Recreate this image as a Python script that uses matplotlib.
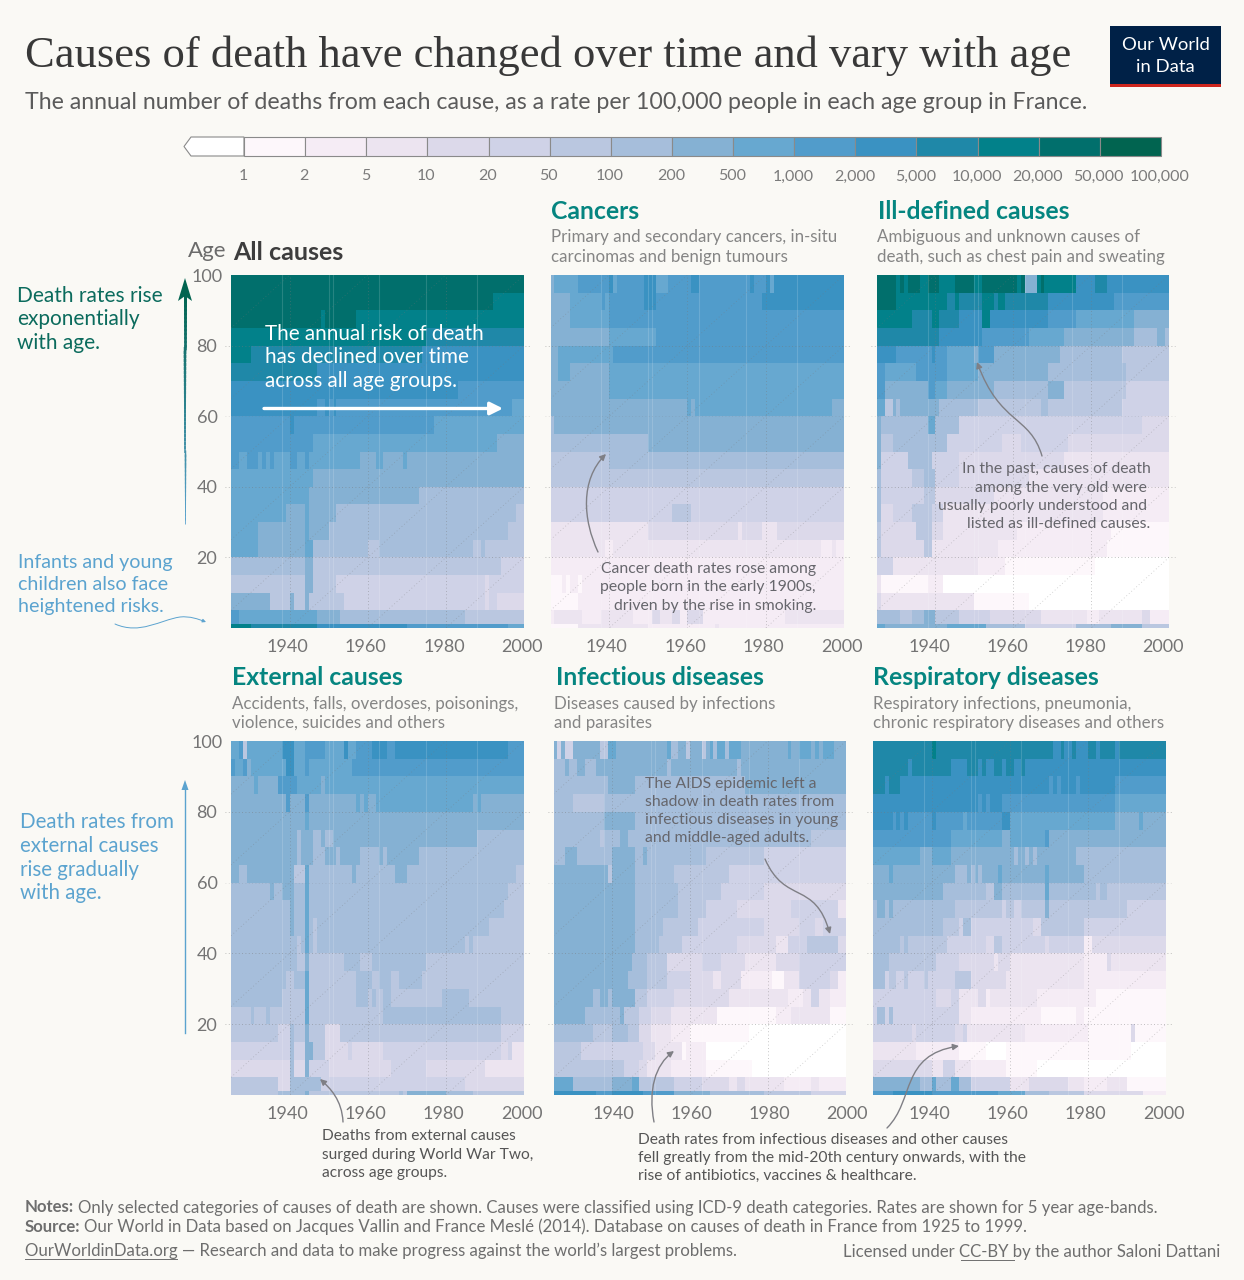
import numpy as np
import matplotlib
matplotlib.use('Agg')
import matplotlib.pyplot as plt
from matplotlib.colors import ListedColormap, BoundaryNorm
from matplotlib.patches import Rectangle, Polygon, FancyArrowPatch
from matplotlib.path import Path
from matplotlib.collections import LineCollection
from matplotlib.transforms import ScaledTranslation

plt.rcParams['font.family'] = ['Lato', 'DejaVu Sans']

W, H = 1244, 1280
BG = '#faf9f5'

# colour classes of the legend
bin_edges = [0, 1, 2, 5, 10, 20, 50, 100, 200, 500, 1000, 2000, 5000, 10000, 20000, 50000, 100000]
bin_labels = ['1', '2', '5', '10', '20', '50', '100', '200', '500', '1,000', '2,000', '5,000',
              '10,000', '20,000', '50,000', '100,000']
bin_colors = ['#ffffff', '#fdf7fb', '#f5ecf5', '#ece4f0', '#dcd9ea', '#cfd2e7', '#bac7e0', '#a6bedb',
              '#85b1d3', '#67a8d0', '#519ccb', '#3a92c2', '#1f88a8', '#02818a', '#016f6c', '#016450']

years = np.arange(1925, 2001)
age_edges = [0, 1, 5, 10, 15, 20, 25, 30, 35, 40, 45, 50, 55, 60, 65, 70, 75, 80, 85, 90, 95, 100]

all_causes = [
    {1925: 30000},
    {1925: 30000, 1992: 15000},
    {1925: 30000, 1948: 15000, 1949: 30000, 1957: 15000},
    {1925: 15000, 1975: 7000},
    {1925: 15000, 1930: 7000, 1974: 3000},
    {1925: 7000, 1947: 3000},
    {1925: 3000, 1983: 1500},
    {1925: 3000, 1947: 1500, 1949: 3000, 1950: 1500, 1951: 3000, 1952: 1500, 1997: 700},
    {1925: 1500, 1940: 3000, 1941: 1500, 1977: 700},
    {1925: 1500, 1946: 700, 1993: 300},
    {1925: 1500, 1927: 700, 1929: 1500, 1932: 700, 1933: 1500, 1934: 700, 1935: 1500, 1936: 700, 1940: 1500,
     1942: 700, 1944: 1500, 1945: 700, 1958: 300, 1962: 700, 1964: 300, 1969: 700, 1970: 300},
    {1925: 700, 1946: 300},
    {1925: 700, 1945: 300, 1973: 150},
    {1925: 700, 1939: 300, 1944: 700, 1945: 300, 1952: 150, 1998: 70},
    {1925: 700, 1932: 300, 1944: 700, 1945: 300, 1950: 150, 1996: 70},
    {1925: 700, 1932: 300, 1944: 700, 1946: 150, 1948: 150, 1960: 70, 1963: 150, 1987: 70, 1989: 150, 1990: 70},
    {1925: 150, 1944: 300, 1946: 70, 1994: 30},
    {1925: 70, 1944: 300, 1946: 70, 1952: 30, 1990: 15, 1991: 30},
    {1925: 300, 1935: 70, 1940: 300, 1941: 70, 1944: 300, 1945: 70, 1954: 30, 1990: 15, 1991: 30, 1993: 15},
    {1925: 1500, 1927: 700, 1947: 300, 1953: 150, 1985: 70},
    {1925: 15000, 1930: 7000, 1947: 3000, 1970: 1500, 1996: 700},
]

cancers = [
    {1925: 300, 1926: 700, 1932: 1500, 1940: 3000, 1941: 700, 1942: 1500, 1949: 3000, 1952: 700, 1955: 1500,
     1961: 3000, 1963: 1500, 1976: 3000, 1977: 1500, 1980: 3000, 1981: 700, 1982: 3000},
    {1925: 300, 1930: 700, 1938: 1500, 1939: 700, 1940: 1500, 1949: 3000, 1952: 1500, 1979: 3000},
    {1925: 300, 1930: 700, 1940: 1500},
    {1925: 300, 1940: 700, 1952: 1500},
    {1925: 300, 1927: 700, 1941: 1500},
    {1925: 300, 1927: 700, 1930: 300, 1940: 700},
    {1925: 300, 1940: 700},
    {1925: 300, 1960: 700, 1961: 300, 1962: 700, 1997: 300},
    {1925: 150, 1926: 300},
    {1925: 150, 1950: 300},
    {1925: 70, 1940: 150},
    {1925: 70},
    {1925: 30},
    {1925: 30, 1956: 70, 1961: 30},
    {1925: 7, 1950: 15, 1973: 7, 1974: 15, 1979: 7, 1983: 15},
    {1925: 7, 1939: 3, 1941: 7, 1994: 3, 1997: 7, 1998: 3},
    {1925: 3},
    {1925: 1.5, 1928: 3, 1929: 1.5, 1930: 3, 1932: 1.5, 1933: 3, 1935: 3},
    {1925: 1.5, 1932: 3},
    {1925: 3, 1926: 7, 1933: 3, 1938: 7, 1946: 3, 1951: 15, 1953: 7, 1956: 15, 1958: 3, 1960: 15, 1964: 3, 1985: 7},
    {1925: 1.5, 1932: 7, 1950: 3, 1967: 7, 1968: 3},
]

ill_defined = [
    {1925: 30000, 1930: 15000, 1931: 30000, 1932: 15000, 1933: 30000, 1936: 15000, 1938: 30000, 1941: 15000,
     1945: 30000, 1950: 15000, 1952: 30000, 1961: 15000, 1962: 30000, 1963: 300, 1966: 15000, 1967: 30000,
     1968: 15000, 1976: 3000, 1981: 7000, 1984: 3000},
    {1925: 30000, 1930: 15000, 1943: 7000, 1945: 15000, 1946: 7000, 1952: 15000, 1955: 7000, 1956: 15000,
     1958: 7000, 1969: 3000, 1986: 1500},
    {1925: 15000, 1934: 7000, 1936: 7000, 1939: 15000, 1941: 7000, 1946: 3000, 1952: 15000, 1954: 3000,
     1969: 1500, 1976: 700, 1984: 700, 1991: 300},
    {1925: 7000, 1941: 3000, 1952: 1500, 1964: 700, 1973: 300, 1991: 150, 1997: 300, 1999: 150},
    {1925: 3000, 1930: 1500, 1939: 3000, 1940: 1500, 1943: 700, 1950: 300, 1951: 1500, 1955: 300, 1972: 150, 1988: 70},
    {1925: 1500, 1927: 700, 1935: 1500, 1943: 700, 1951: 300, 1969: 150, 1989: 70},
    {1925: 1500, 1927: 300, 1938: 1500, 1940: 700, 1943: 300, 1955: 150, 1969: 300, 1973: 70, 1989: 30},
    {1925: 700, 1927: 70, 1929: 300, 1930: 150, 1931: 300, 1941: 150, 1951: 70, 1967: 150, 1969: 70, 1988: 30},
    {1925: 300, 1926: 150, 1938: 700, 1940: 150, 1946: 30, 1993: 15},
    {1925: 300, 1926: 70, 1929: 150, 1943: 30, 1957: 15, 1962: 30, 1974: 15},
    {1925: 300, 1926: 30, 1933: 150, 1939: 30, 1946: 15, 1973: 7},
    {1925: 150, 1926: 30, 1934: 70, 1937: 150, 1940: 30, 1946: 15, 1964: 7},
    {1925: 150, 1926: 30, 1937: 70, 1940: 15, 1955: 7, 1983: 3},
    {1925: 150, 1926: 15, 1929: 30, 1934: 70, 1939: 30, 1942: 7, 1983: 3},
    {1925: 70, 1926: 15, 1935: 70, 1939: 15, 1942: 7, 1961: 3, 1985: 1.5},
    {1925: 70, 1926: 15, 1937: 70, 1939: 7, 1956: 3, 1984: 1.5},
    {1925: 30, 1929: 7, 1951: 3, 1958: 1.5, 1981: 0.5},
    {1925: 7, 1926: 1.5, 1938: 3, 1942: 0.5},
    {1925: 15, 1926: 7, 1950: 1.5, 1964: 0.5},
    {1925: 150, 1931: 70, 1934: 150, 1937: 300, 1940: 70, 1946: 30, 1954: 15, 1967: 7, 1979: 3, 1982: 7,
     1993: 15, 1995: 3},
    {1925: 700, 1927: 300, 1943: 700, 1953: 150, 1963: 30, 1976: 150, 1985: 300, 1993: 70},
]

external = [
    {1925: 700, 1927: 1500, 1928: 70, 1929: 700, 1938: 3000, 1941: 700, 1944: 1500, 1949: 700, 1954: 3000,
     1955: 700, 1957: 1500, 1961: 3000, 1965: 1500, 1967: 3000, 1996: 1500},
    {1925: 1500, 1926: 700, 1928: 1500, 1929: 300, 1930: 700, 1939: 3000, 1941: 700, 1944: 1500, 1945: 700, 1956: 1500},
    {1925: 300, 1931: 700, 1932: 300, 1937: 1500, 1942: 700, 1948: 300, 1949: 700},
    {1925: 300, 1939: 1500, 1940: 300, 1944: 1500, 1945: 300, 1957: 700, 1958: 300, 1959: 700, 1960: 300,
     1962: 700, 1987: 300, 1988: 700, 1989: 300},
    {1925: 300, 1944: 700, 1945: 300},
    {1925: 300, 1942: 150, 1943: 300, 1946: 150, 1948: 300, 1949: 150, 1951: 300, 1988: 150},
    {1925: 300, 1942: 150, 1943: 300, 1946: 150, 1949: 300, 1952: 150, 1953: 300, 1958: 150, 1963: 300, 1964: 150,
     1965: 300, 1973: 150},
    {1925: 300, 1927: 150, 1929: 300, 1941: 70, 1944: 700, 1945: 150, 1956: 300, 1957: 150, 1967: 300, 1970: 150,
     1998: 70},
    {1925: 150, 1935: 300, 1936: 150, 1938: 300, 1941: 150, 1944: 700, 1945: 150, 1996: 70},
    {1925: 150, 1940: 300, 1941: 150, 1944: 700, 1945: 150, 1995: 70},
    {1925: 150, 1940: 300, 1941: 150, 1944: 700, 1945: 150, 1946: 70, 1947: 150, 1991: 70},
    {1925: 150, 1942: 70, 1943: 150, 1944: 700, 1945: 150, 1946: 70, 1947: 150, 1985: 70, 1986: 150, 1987: 70},
    {1925: 150, 1942: 70, 1944: 300, 1945: 70, 1954: 150, 1958: 70, 1961: 150, 1975: 70},
    {1925: 150, 1939: 70, 1941: 150, 1944: 700, 1945: 70, 1957: 150, 1961: 70, 1963: 150, 1966: 70, 1968: 150,
     1974: 70},
    {1925: 150, 1938: 70, 1944: 700, 1945: 70, 1957: 150, 1960: 70, 1961: 150, 1962: 70, 1964: 150, 1966: 70,
     1979: 150, 1986: 70},
    {1925: 70, 1930: 150, 1931: 70, 1934: 150, 1935: 70, 1944: 700, 1945: 70, 1964: 150, 1994: 70},
    {1925: 70, 1937: 30, 1940: 150, 1941: 70, 1944: 300, 1945: 70, 1949: 15, 1953: 70, 1994: 30},
    {1925: 30, 1940: 150, 1941: 30, 1944: 300, 1946: 70, 1949: 15, 1955: 30, 1956: 15, 1964: 30, 1994: 15,
     1996: 30, 1997: 7},
    {1925: 15, 1940: 150, 1941: 15, 1944: 300, 1945: 30, 1950: 15, 1966: 30, 1975: 15, 1990: 7},
    {1925: 70, 1937: 15, 1940: 150, 1948: 30, 1985: 15},
    {1925: 70, 1937: 150, 1944: 300, 1945: 70, 1968: 150, 1969: 70, 1970: 300, 1980: 150, 1987: 70},
]

infectious = [
    {1925: 300, 1926: 30, 1927: 300, 1928: 30, 1930: 300, 1937: 70, 1939: 700, 1941: 300, 1954: 700, 1955: 150,
     1957: 300, 1959: 70, 1960: 300, 1963: 70, 1964: 300, 1965: 700, 1966: 150, 1967: 700, 1969: 150, 1970: 700,
     1973: 300, 1985: 700, 1986: 300, 1988: 700, 1991: 300, 1992: 700, 1993: 300, 1994: 700, 1997: 300},
    {1925: 150, 1928: 300, 1929: 150, 1931: 300, 1933: 150, 1936: 300, 1954: 150, 1955: 300, 1972: 150, 1973: 300},
    {1925: 150, 1939: 300, 1946: 150, 1974: 300},
    {1925: 150, 1930: 70, 1938: 150},
    {1925: 150, 1938: 300, 1946: 150},
    {1925: 150, 1937: 70, 1938: 150, 1942: 300, 1944: 150, 1991: 70},
    {1925: 150, 1928: 300, 1931: 150, 1940: 300, 1946: 150, 1948: 300, 1949: 150, 1964: 70, 1979: 30},
    {1925: 300, 1939: 70, 1940: 300, 1946: 150, 1956: 70, 1970: 30},
    {1925: 300, 1946: 150, 1957: 70, 1968: 30, 1979: 15},
    {1925: 300, 1946: 150, 1957: 70, 1964: 30, 1972: 15, 1986: 30, 1998: 7},
    {1925: 300, 1946: 150, 1953: 70, 1962: 30, 1979: 15, 1988: 30, 1992: 15, 1994: 30},
    {1925: 300, 1946: 150, 1952: 70, 1958: 30, 1972: 15, 1982: 7, 1985: 30, 1990: 70, 1998: 15},
    {1925: 300, 1945: 150, 1949: 70, 1954: 15, 1963: 30, 1968: 15, 1974: 7, 1982: 15, 1988: 30},
    {1925: 300, 1944: 150, 1949: 70, 1954: 30, 1960: 15, 1966: 7, 1968: 15, 1973: 3, 1981: 1.5, 1984: 7, 1988: 30,
     1996: 15, 1998: 3},
    {1925: 300, 1935: 150, 1937: 300, 1939: 150, 1940: 300, 1946: 70, 1949: 30, 1956: 15, 1970: 7, 1985: 3,
     1989: 7, 1991: 30, 1993: 7, 1996: 3},
    {1925: 300, 1933: 150, 1942: 300, 1943: 70, 1947: 30, 1950: 15, 1955: 7, 1967: 1.5, 1982: 3, 1986: 7, 1996: 1.5},
    {1925: 150, 1935: 70, 1940: 150, 1944: 70, 1947: 15, 1950: 7, 1955: 3, 1960: 1.5, 1975: 0.5},
    {1925: 70, 1932: 30, 1948: 15, 1951: 7, 1958: 1.5, 1959: 3, 1964: 0.5},
    {1925: 70, 1943: 30, 1947: 15, 1949: 7, 1955: 3, 1964: 1.5, 1976: 0.5},
    {1925: 700, 1930: 150, 1940: 300, 1945: 700, 1947: 70, 1956: 30, 1963: 15, 1970: 7, 1972: 15, 1974: 7, 1984: 3,
     1991: 7, 1993: 3},
    {1925: 3000, 1936: 1500, 1940: 3000, 1948: 1500, 1956: 300, 1965: 150, 1979: 70, 1991: 30},
]

respiratory = [
    {1925: 7000, 1940: 15000, 1941: 7000, 1971: 3000, 1973: 7000, 1974: 3000, 1976: 7000, 1977: 3000, 1980: 7000,
     1982: 3000, 1983: 7000, 1987: 3000, 1988: 7000},
    {1925: 7000, 1934: 3000, 1935: 7000, 1945: 3000, 1949: 7000, 1952: 3000, 1953: 7000, 1954: 3000, 1956: 7000,
     1958: 3000, 1959: 7000, 1961: 3000, 1963: 7000, 1964: 3000},
    {1925: 7000, 1928: 3000, 1929: 7000, 1932: 3000, 1970: 1500, 1971: 3000, 1972: 1500, 1973: 3000, 1977: 1500,
     1978: 3000, 1987: 1500},
    {1925: 3000, 1952: 1500, 1953: 3000, 1954: 1500, 1955: 3000, 1958: 1500, 1987: 700},
    {1925: 3000, 1930: 1500, 1931: 3000, 1932: 1500, 1933: 3000, 1934: 1500, 1940: 3000, 1941: 1500, 1948: 700,
     1949: 1500, 1958: 3000, 1960: 700, 1987: 300, 1993: 700, 1994: 300},
    {1925: 1500, 1945: 700, 1958: 300, 1960: 700, 1969: 1500, 1970: 300},
    {1925: 700, 1937: 300, 1940: 700, 1945: 300, 1961: 150, 1962: 300, 1964: 150, 1965: 300, 1966: 150, 1967: 300,
     1977: 150},
    {1925: 300, 1929: 700, 1930: 300, 1946: 150, 1949: 300, 1950: 150, 1951: 300, 1952: 150, 1953: 300, 1957: 700,
     1958: 300, 1969: 700, 1970: 300, 1979: 150},
    {1925: 300, 1943: 150, 1954: 70, 1956: 300, 1958: 150, 1969: 700, 1970: 150, 1982: 70, 1983: 150, 1985: 70},
    {1925: 150, 1926: 300, 1928: 150, 1929: 300, 1930: 150, 1946: 70, 1958: 30, 1959: 70, 1961: 30, 1963: 70,
     1969: 300, 1970: 70, 1990: 30},
    {1925: 150, 1943: 70, 1947: 30, 1948: 150, 1950: 30, 1966: 15, 1968: 70, 1979: 30},
    {1925: 150, 1932: 70, 1933: 150, 1934: 70, 1944: 30, 1954: 15, 1956: 70, 1958: 30, 1969: 15, 1970: 30,
     1979: 3, 1981: 15},
    {1925: 150, 1929: 70, 1941: 30, 1947: 15, 1956: 7, 1957: 15, 1960: 7, 1979: 3, 1985: 15, 1986: 7},
    {1925: 150, 1928: 30, 1929: 70, 1931: 30, 1933: 70, 1934: 30, 1938: 70, 1939: 30, 1946: 70, 1950: 15, 1959: 7,
     1979: 3},
    {1925: 30, 1941: 15, 1945: 30, 1947: 7, 1952: 15, 1954: 3, 1955: 7, 1967: 3, 1982: 1.5},
    {1925: 30, 1926: 150, 1928: 30, 1929: 150, 1930: 30, 1947: 7, 1950: 3, 1968: 1.5, 1977: 3, 1979: 1.5},
    {1925: 30, 1935: 15, 1936: 30, 1946: 15, 1948: 30, 1949: 7, 1964: 3, 1980: 1.5, 1991: 15, 1992: 1.5},
    {1925: 7, 1936: 3, 1947: 1.5, 1954: 0.5, 1959: 1.5, 1991: 0.5},
    {1925: 15, 1940: 7, 1943: 30, 1946: 7, 1950: 3, 1959: 1.5, 1967: 0.5},
    {1925: 300, 1937: 150, 1940: 700, 1941: 150, 1945: 700, 1947: 150, 1950: 30, 1960: 7, 1965: 15, 1975: 7,
     1979: 3, 1985: 7, 1990: 1.5},
    {1925: 1500, 1930: 3000, 1940: 1500, 1957: 700, 1964: 150, 1970: 70, 1979: 15, 1994: 3},
]

panels = [
    (all_causes, (231, 275, 524, 628), True, -2),
    (cancers, (550.5, 275, 844, 628), False, -2.5),
    (ill_defined, (877, 275, 1169, 628), False, -6),
    (external, (231, 741, 524, 1095), True, -2.5),
    (infectious, (553.5, 741, 846, 1095), False, 1),
    (respiratory, (873, 741, 1166, 1095), False, -2.5),
]

cmap = ListedColormap(bin_colors)
norm = BoundaryNorm(bin_edges, cmap.N)


def rows_to_matrix(rows):
    out = np.zeros((len(rows), len(years) - 1))
    for i, row in enumerate(rows[::-1]):
        for start, rate in sorted(row.items()):
            out[i, start - 1925:] = rate
    return out


fig = plt.figure(figsize=(W / 100, H / 100), dpi=100, facecolor=BG)

for rows, (x0, y0, x1, y1), show_age, shift in panels:
    ax = fig.add_axes([x0 / W, 1 - y1 / H, (x1 - x0) / W, (y1 - y0) / H])
    ax.pcolormesh(years, age_edges, rows_to_matrix(rows), cmap=cmap, norm=norm, linewidth=0)
    ax.set_xlim(1925, 2000)
    ax.set_ylim(0, 100)
    for s in ax.spines.values():
        s.set_visible(False)
    ax.set_xticks([1940, 1960, 1980, 2000])
    ax.tick_params(length=0, labelsize=13, labelcolor='#747474', pad=8)
    for lab in ax.get_xticklabels():
        lab.set_transform(lab.get_transform() + ScaledTranslation(shift / 100, 0, fig.dpi_scale_trans))
    if show_age:
        ax.set_yticks([20, 40, 60, 80, 100])
        ax.tick_params(axis='y', pad=17.3)
        for lab in ax.get_yticklabels():
            lab.set_ha('center')
    else:
        ax.set_yticks([])
    for xv in [1938, 1950, 1951, 1963, 1975, 1988]:
        ax.axvline(xv, color='white', lw=0.8, alpha=0.15)
    for yr in [1940, 1960, 1980]:
        ax.axvline(yr, color='#777777', lw=0.6, ls=(0, (1, 3)), alpha=0.55)
    for age, a in [(20, 0.6), (40, 0.6), (60, 0.25), (80, 0.6)]:
        ax.plot([1923.5, 2001.5], [age, age], color='#777777', lw=0.6, ls=(0, (1, 3)), alpha=a, clip_on=False)
    for birth in range(1820, 1981, 20):
        ax.plot([1925, 2000], [1925 - birth, 2000 - birth], color='#777777', lw=0.6, ls=(0, (1, 3)), alpha=0.4)

# overlay in pixel units for the legend, texts and notes
ov = fig.add_axes([0, 0, 1, 1], facecolor='none')
ov.set_xlim(0, W)
ov.set_ylim(H, 0)
ov.axis('off')


def label(lines, x, ys, **kw):
    kw.setdefault('va', 'center')
    for line, y in zip(lines, ys):
        ov.text(x, y + 1, line, **kw)


def curve(verts, codes, color='#7f7f85', lw=1.0, head=9):
    arrow = FancyArrowPatch(path=Path(verts, codes), arrowstyle='-|>', mutation_scale=head, color=color,
                            lw=lw, shrinkA=0, shrinkB=0)
    ov.add_patch(arrow)


C4 = Path.CURVE4
M = Path.MOVETO

# title block
ov.text(25, 67, 'Causes of death have changed over time and vary with age', family='Liberation Serif',
        fontsize=32.05, color='#383838', va='baseline')
label(['The annual number of deaths from each cause, as a rate per 100,000 people in each age group in France.'],
      25, [101.5], fontsize=16.7, color='#5b5b5b')

ov.add_patch(Rectangle((1110, 26), 111, 61, color='#002147', lw=0))
ov.add_patch(Rectangle((1110, 84), 111, 3, color='#ce261e', lw=0))
label(['Our World', 'in Data'], 1165.5, [44, 66], color='white', fontsize=13.3, ha='center')

# legend
step = (1161 - 244) / 15
ov.add_patch(Polygon([(184, 146.5), (191, 137), (244, 137), (244, 156), (191, 156)], closed=True,
                     facecolor=bin_colors[0], edgecolor='#8a8a8a', lw=0.8))
for i, c in enumerate(bin_colors[1:]):
    ov.add_patch(Rectangle((244 + i * step, 137), step, 19, facecolor=c, edgecolor='#8a8a8a', lw=0.8))
for i, t in enumerate(bin_labels):
    label([t], 243 + i * step, [175.5], ha='center', fontsize=11.5, color='#7b7b7b')

# panel heads
TEAL = '#058580'
GREY = '#858585'
label(['Age'], 188, [250], fontsize=16, color='#6b6b6b')
label(['All causes'], 233, [251], fontsize=18, fontweight='bold', color='#3d3d3d')
label(['Cancers'], 551, [210.5], fontsize=17.8, fontweight='bold', color=TEAL)
label(['Primary and secondary cancers, in-situ', 'carcinomas and benign tumours'], 551, [236, 256],
      fontsize=12.2, color=GREY)
label(['Ill-defined causes'], 878, [210.5], fontsize=17.8, fontweight='bold', color=TEAL)
label(['Ambiguous and unknown causes of', 'death, such as chest pain and sweating'], 877, [236, 256],
      fontsize=12.2, color=GREY)
label(['External causes'], 232, [676.5], fontsize=17.8, fontweight='bold', color=TEAL)
label(['Accidents, falls, overdoses, poisonings,', 'violence, suicides and others'], 232, [703, 722],
      fontsize=12.2, color=GREY)
label(['Infectious diseases'], 556, [676.5], fontsize=17.8, fontweight='bold', color=TEAL)
label(['Diseases caused by infections', 'and parasites'], 554, [703, 722], fontsize=12.2, color=GREY)
label(['Respiratory diseases'], 873, [676.5], fontsize=17.8, fontweight='bold', color=TEAL)
label(['Respiratory infections, pneumonia,', 'chronic respiratory diseases and others'], 873, [703, 722],
      fontsize=12.2, color=GREY)

# side notes
GREEN = '#0b6b5d'
BLUE = '#5ba3cf'
label(['Death rates rise', 'exponentially', 'with age.'], 17, [294.5, 318, 342], fontsize=15, color=GREEN)
label(['Infants and young', 'children also face', 'heightened risks.'], 18, [561.5, 583.5, 605.5], fontsize=14.1,
      color=BLUE)
label(['Death rates from', 'external causes', 'rise gradually', 'with age.'], 20, [821, 845, 869, 892],
      fontsize=14.8, color=BLUE)

# arrow that darkens and widens upwards
ys = np.linspace(522, 290, 60)
segs = [[(185, a + 1.5), (185, b - 1.5)] for a, b in zip(ys[:-1], ys[1:])]
fracs = np.linspace(0, 1, len(segs))
blue_rgb = np.array(matplotlib.colors.to_rgb('#5ba3cf'))
green_rgb = np.array(matplotlib.colors.to_rgb('#016450'))
ov.add_collection(LineCollection(segs, colors=[blue_rgb + (green_rgb - blue_rgb) * f for f in fracs],
                                 linewidths=0.6 + 1.6 * fracs, antialiaseds=True))
ov.add_patch(Polygon([(185, 278), (192, 301), (185, 296), (178, 301)], closed=True, color='#016450', lw=0))

ov.plot([185, 185], [1033, 786], color=BLUE, lw=1.0)
ov.add_patch(Polygon([(185, 780), (188.5, 790), (181.5, 790)], closed=True, color=BLUE, lw=0))

curve([(115, 624), (140, 635), (160, 620), (180, 617), (190, 616), (198, 619), (206, 622)],
      [M, C4, C4, C4, C4, C4, C4], color=BLUE, lw=0.7, head=5)

# notes on the panels
label(['The annual risk of death', 'has declined over time', 'across all age groups.'], 265, [333, 356, 380],
      fontsize=14.9, color='white')
ov.add_patch(FancyArrowPatch((264, 408.5), (503, 408.5), arrowstyle='-|>', mutation_scale=19, color='white', lw=2.4,
                             shrinkA=0, shrinkB=0))

NOTE = '#66666c'
label(['Cancer death rates rose among', 'people born in the early 1900s,', 'driven by the rise in smoking.'],
      816, [568, 586, 605], fontsize=11.3, color=NOTE, ha='right')
curve([(598, 552), (583, 520), (580, 480), (606, 454)], [M, C4, C4, C4])

label(['In the past, causes of death', 'among the very old were ', 'usually poorly understood and ',
       'listed as ill-defined causes.'], 1150.5, [468, 487, 505, 523], fontsize=11.3, color=NOTE, ha='right')
curve([(1042, 456), (1030, 415), (1000, 425), (977, 362)], [M, C4, C4, C4])

label(['The AIDS epidemic left a', 'shadow in death rates from', 'infectious diseases in young',
       'and middle-aged adults.'], 645, [783, 801, 819, 837], fontsize=11.3, color=NOTE)
curve([(765, 859), (785, 905), (815, 880), (830, 934)], [M, C4, C4, C4])

label(['Deaths from external causes', 'surged during World War Two,', 'across age groups.'], 322, [1135, 1154, 1172],
      fontsize=11.2, color='#555555')
curve([(343, 1122), (342, 1100), (330, 1088), (320, 1079)], [M, C4, C4, C4])

label(['Death rates from infectious diseases and other causes',
       'fell greatly from the mid-20th century onwards, with the',
       'rise of antibiotics, vaccines & healthcare.'], 638, [1139, 1157, 1175], fontsize=11.25, color='#555555')
curve([(654, 1122), (648, 1090), (655, 1065), (674, 1051)], [M, C4, C4, C4])
curve([(887, 1128), (915, 1100), (900, 1055), (959, 1046)], [M, C4, C4, C4])

# footer
FOOT = '#6e6e6e'
FS = 12.05
label(['Notes:'], 25, [1206.5], fontsize=FS, fontweight='bold', color=FOOT)
label(['Only selected categories of causes of death are shown. Causes were classified using ICD-9 death '
       'categories. Rates are shown for 5 year age-bands.'], 78, [1206.5], fontsize=FS, color=FOOT)
label(['Source:'], 25, [1225.5], fontsize=FS, fontweight='bold', color=FOOT)
label(['Our World in Data based on Jacques Vallin and France Meslé (2014). Database on causes of death '
       'in France from 1925 to 1999.'], 84, [1225.5], fontsize=FS, color=FOOT)
label(['OurWorldinData.org — Research and data to make progress against the world’s largest problems.'],
      25, [1249.5], fontsize=FS, color=FOOT)
ov.plot([25, 177], [1259, 1259], color=FOOT, lw=0.7)
label(['Licensed under CC-BY by the author Saloni Dattani'], 1220, [1250.5], fontsize=FS, color=FOOT, ha='right')
ov.plot([961, 1014], [1260, 1260], color=FOOT, lw=0.7)

fig.savefig('out.png', dpi=100, facecolor=BG)
